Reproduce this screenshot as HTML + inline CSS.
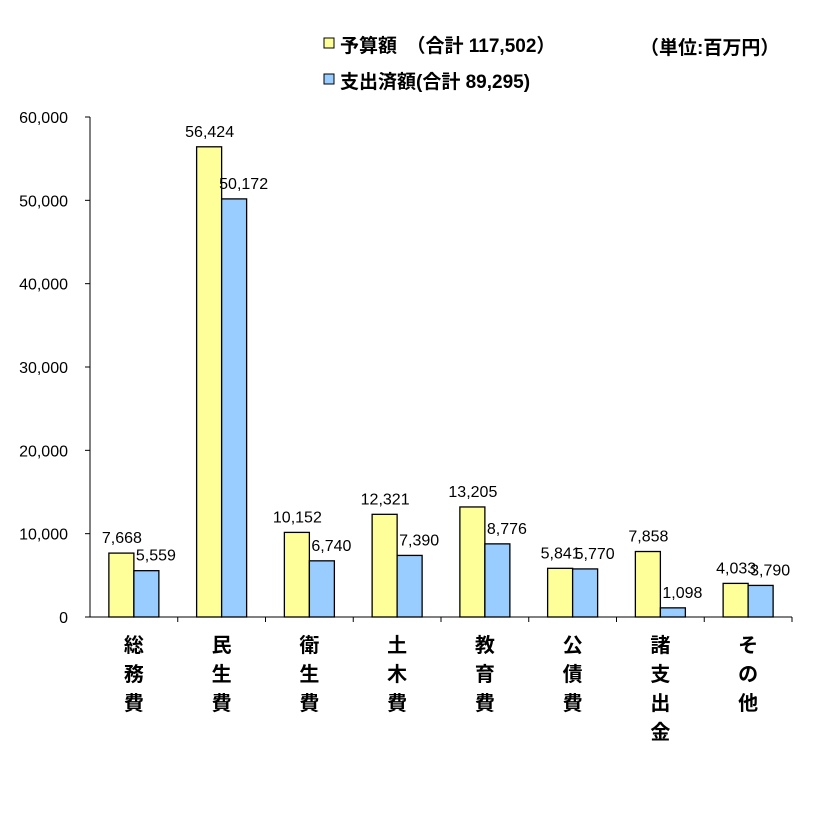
<!DOCTYPE html>
<html><head><meta charset="utf-8"><style>
body{margin:0;background:#fff}
svg text{font-family:"Liberation Sans","Noto Sans CJK JP",sans-serif;}
</style></head><body>
<svg id="c" width="835" height="828" xmlns="http://www.w3.org/2000/svg">
<g>
<rect x="324" y="38" width="10" height="10" fill="#FFFF99" stroke="#000" stroke-width="1"/>
<text x="340" y="52" font-size="19" font-weight="bold">予算額　（合計 117,502）</text>
<rect x="324" y="74" width="10" height="10" fill="#99CCFF" stroke="#000" stroke-width="1"/>
<text x="340" y="88" font-size="19" font-weight="bold">支出済額(合計 89,295)</text>
<text x="640" y="54" font-size="19" font-weight="bold">（単位:百万円）</text>
</g>
<g id="plot"></g>
</svg>
<script>
const categories=["総務費","民生費","衛生費","土木費","教育費","公債費","諸支出金","その他"];
const budget=[7668,56424,10152,12321,13205,5841,7858,4033];
const spent=[5559,50172,6740,7390,8776,5770,1098,3790];
const ticks=[0,10000,20000,30000,40000,50000,60000];
const NS="http://www.w3.org/2000/svg";
const g=document.getElementById("plot");
const x0=90,x1=792,y0=617,yTop=117,yMax=60000;
const y=v=>y0-(v/yMax)*(y0-yTop);
const bw=(x1-x0)/categories.length;
const cx=i=>x0+bw*(i+0.5);
function mk(t,a){const e=document.createElementNS(NS,t);for(const k in a)e.setAttribute(k,a[k]);g.appendChild(e);return e;}
const fmt=v=>v.toLocaleString("en-US");
ticks.forEach(t=>{
 const l=mk("line",{x1:x0-5,x2:x0,y1:y(t),y2:y(t),stroke:"#000"});
 
 
 const tx=mk("text",{x:x0-22,y:y(t)+6,"font-size":"16","text-anchor":"end"});
 tx.textContent=fmt(t);
 
 
});
categories.forEach((c,i)=>{
 const c0=cx(i);
 const rb=mk("rect",{x:c0-25,y:y(budget[i]),width:25,height:y0-y(budget[i]),fill:"#FFFF99",stroke:"#000","stroke-width":"1.3"});
 
 
 const rs=mk("rect",{x:c0,y:y(spent[i]),width:25,height:y0-y(spent[i]),fill:"#99CCFF",stroke:"#000","stroke-width":"1.3"});
 
 
 const lb=mk("text",{x:c0-12,y:y(budget[i])-10,"font-size":"16","text-anchor":"middle"});
 lb.textContent=fmt(budget[i]);
 
 
 const ls=mk("text",{x:c0+22,y:y(spent[i])-10,"font-size":"16","text-anchor":"middle"});
 ls.textContent=fmt(spent[i]);
 
 
 [...c].forEach((ch,k)=>{
  const t=mk("text",{x:c0,y:652+k*29,"font-size":"20","font-weight":"bold","text-anchor":"middle"});
  t.textContent=ch;
  
  
 });
 const tk=mk("line",{x1:x0+bw*(i+1),x2:x0+bw*(i+1),y1:y0,y2:y0+5,stroke:"#000"});
 
 
});
const ax=mk("line",{x1:x0,x2:x0,y1:yTop,y2:y0,stroke:"#000"});


const bx=mk("line",{x1:x0,x2:x1,y1:y0,y2:y0,stroke:"#000"});


</script>
</body></html>
